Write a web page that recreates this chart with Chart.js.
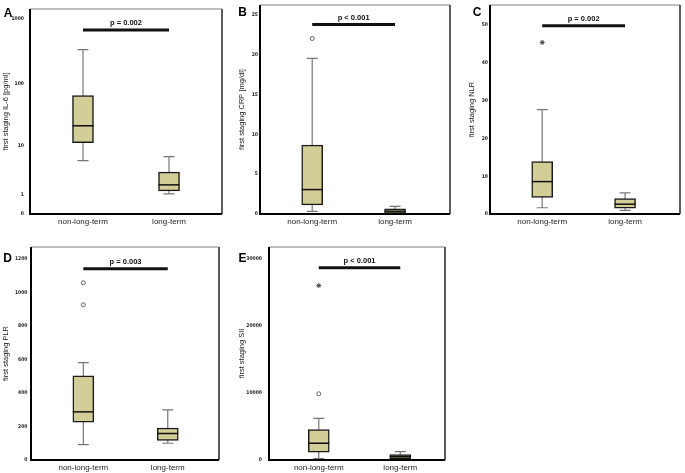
<!DOCTYPE html>
<html>
<head>
<meta charset="utf-8">
<script src="https://cdn.jsdelivr.net/npm/chart.js@4.4.0/dist/chart.umd.min.js"></script>
<style>
  html, body { margin: 0; padding: 0; background: #fff; }
  body { width: 685px; height: 473px; position: relative; overflow: hidden; }
  canvas { position: absolute; }
</style>
</head>
<body>
<canvas id="cA"></canvas>
<canvas id="cB"></canvas>
<canvas id="cC"></canvas>
<canvas id="cD"></canvas>
<canvas id="cE"></canvas>
<script>
const categories = ["non-long-term", "long-term"];

// box stats per group: [lower whisker, Q1, median, Q3, upper whisker]
const il6Stats = [[5.6, 11.4, 21.6, 64.5, 332], [1.04, 1.26, 1.8, 3.4, 6.6]];
const crpStats = [[0.33, 1.15, 3.06, 8.63, 19.5], [0.02, 0.08, 0.35, 0.65, 0.95]];
const nlrStats = [[1.66, 4.37, 8.57, 13.9, 27.6], [0.96, 1.57, 2.6, 4.1, 5.6]];
const plrStats = [[92, 225, 287, 502, 580], [100, 116, 158, 191, 299]];
const siiStats = [[210, 1150, 2500, 4545, 6190], [40, 210, 508, 807, 1255]];

// outliers (o) and extremes (*) as [group index, value]
const il6Outliers = [];
const il6Extremes = [];
const crpOutliers = [[0, 22]];
const crpExtremes = [];
const nlrOutliers = [];
const nlrExtremes = [[0, 45.4]];
const plrOutliers = [[0, 1057], [0, 925]];
const plrExtremes = [];
const siiOutliers = [[0, 9870]];
const siiExtremes = [[0, 26000]];

// y tick labels
const il6Ticks = [0, 1, 10, 100, 1000];
const crpTicks = [0, 5, 10, 15, 20, 25];
const nlrTicks = [0, 10, 20, 30, 40, 50];
const plrTicks = [0, 200, 400, 600, 800, 1000, 1200];
const siiTicks = [0, 10000, 20000, 30000];

const yTitles = ["first staging IL-6 [pg/ml]", "first staging CRP [mg/dl]", "first staging NLR", "first staging PLR", "first staging SII"];
const letters = ["A", "B", "C", "D", "E"];
const pTexts = ["p = 0.002", "p < 0.001", "p = 0.002", "p = 0.003", "p < 0.001"];
const sigLevels = [668, 23.75, 49.8, 1140, 28650];
const yMaxes = [1400, 26.2, 55.3, 1270, 31750];

// SPSS style safe log: log10(1 + v)
const safeLog = (v) => Math.log10(1 + v);

const panels = [
  { canvas: "cA", stats: il6Stats, outliers: il6Outliers, extremes: il6Extremes, ticks: il6Ticks, log: true,
    left: 0, top: 0, w: 224, h: 230, axisW: 30, axisH: 16, padTop: 3, padRight: 2, titlePad: 1.5, tickPad: 6,
    xMin: -0.616, xMax: 1.616, letterAt: [8, 13.5] },
  { canvas: "cB", stats: crpStats, outliers: crpOutliers, extremes: crpExtremes, ticks: crpTicks, log: false,
    left: 225, top: 0, w: 230, h: 230, axisW: 35, axisH: 16, padTop: 3, padRight: 2.3, titlePad: 12.5, tickPad: 2,
    xMin: -0.63, xMax: 1.663, letterAt: [17.5, 13] },
  { canvas: "cC", stats: nlrStats, outliers: nlrOutliers, extremes: nlrExtremes, ticks: nlrTicks, log: false,
    left: 455, top: 0, w: 230, h: 230, axisW: 35, axisH: 16, padTop: 3, padRight: 2, titlePad: 12.5, tickPad: 2,
    xMin: -0.63, xMax: 1.663, letterAt: [22, 13] },
  { canvas: "cD", stats: plrStats, outliers: plrOutliers, extremes: plrExtremes, ticks: plrTicks, log: false,
    left: 0, top: 230, w: 224, h: 243, axisW: 31, axisH: 13, padTop: 17, padRight: 1.7, titlePad: 1.5, tickPad: 3.5,
    xMin: -0.62, xMax: 1.607, letterAt: [7.5, 28.3] },
  { canvas: "cE", stats: siiStats, outliers: siiOutliers, extremes: siiExtremes, ticks: siiTicks, log: false,
    left: 225, top: 230, w: 225, h: 243, axisW: 44, axisH: 13, padTop: 17, padRight: 2.7, titlePad: 12.5, tickPad: 7,
    xMin: -0.611, xMax: 1.549, letterAt: [17.5, 28.8] },
];

const boxFill = "#d3ce97";
const tickFont = { family: "'Liberation Sans Narrow', 'DejaVu Sans Condensed', 'Liberation Sans', sans-serif", size: 5, weight: "bold" };

function makeChart(p, k) {
  const f = p.log ? safeLog : (v) => v;
  const canvas = document.getElementById(p.canvas);
  canvas.width = p.w;
  canvas.height = p.h;
  canvas.style.left = p.left + "px";
  canvas.style.top = p.top + "px";

  const boxParts = {
    id: "boxParts",
    beforeDatasetsDraw(chart) {
      const { ctx, scales: { x, y } } = chart;
      ctx.save();
      ctx.strokeStyle = "#777";
      ctx.lineWidth = 1.2;
      p.stats.forEach((s, i) => {
        const cx = x.getPixelForValue(i);
        const lo = y.getPixelForValue(f(s[0]));
        const hi = y.getPixelForValue(f(s[4]));
        ctx.beginPath();
        ctx.moveTo(cx, lo); ctx.lineTo(cx, hi);
        ctx.moveTo(cx - 5.5, lo); ctx.lineTo(cx + 5.5, lo);
        ctx.moveTo(cx - 5.5, hi); ctx.lineTo(cx + 5.5, hi);
        ctx.stroke();
      });
      ctx.restore();
    },
    afterDatasetsDraw(chart) {
      const { ctx, chartArea: a, scales: { x, y } } = chart;
      ctx.save();
      // medians
      ctx.strokeStyle = "#111";
      ctx.lineWidth = 1.5;
      p.stats.forEach((s, i) => {
        const cx = x.getPixelForValue(i);
        const m = y.getPixelForValue(f(s[2]));
        ctx.beginPath();
        ctx.moveTo(cx - 10.5, m); ctx.lineTo(cx + 10.5, m);
        ctx.stroke();
      });
      // frame
      ctx.lineWidth = 1.5;
      ctx.strokeStyle = "#a8a8a8";
      ctx.beginPath(); ctx.moveTo(a.left, a.top); ctx.lineTo(a.right, a.top); ctx.stroke();
      ctx.lineWidth = 2;
      ctx.strokeStyle = "#5c5c5c";
      ctx.beginPath(); ctx.moveTo(a.right, a.top); ctx.lineTo(a.right, a.bottom); ctx.stroke();
      ctx.strokeStyle = "#000";
      ctx.beginPath(); ctx.moveTo(a.left, a.top); ctx.lineTo(a.left, a.bottom); ctx.lineTo(a.right, a.bottom); ctx.stroke();
      // significance bar
      const sy = y.getPixelForValue(f(sigLevels[k]));
      ctx.lineWidth = 3;
      ctx.strokeStyle = "#111";
      ctx.beginPath();
      ctx.moveTo(x.getPixelForValue(0), sy); ctx.lineTo(x.getPixelForValue(1), sy);
      ctx.stroke();
      ctx.fillStyle = "#111";
      ctx.font = "bold 7.5px 'Liberation Sans', Arial, sans-serif";
      ctx.textAlign = "center";
      ctx.textBaseline = "middle";
      ctx.fillText(pTexts[k], (x.getPixelForValue(0) + x.getPixelForValue(1)) / 2, sy - 6.5);
      // panel letter
      ctx.fillStyle = "#000";
      ctx.font = "bold 12px 'Liberation Sans', Arial, sans-serif";
      ctx.fillText(letters[k], p.letterAt[0], p.letterAt[1]);
      ctx.restore();
    },
  };

  new Chart(canvas, {
    type: "bar",
    data: {
      datasets: [
        {
          type: "bar",
          data: p.stats.map((s, i) => ({ x: i, y: [f(s[1]), f(s[3])] })),
          backgroundColor: boxFill,
          borderColor: "#1a1a1a",
          borderWidth: 1.5,
          borderSkipped: false,
          barThickness: 21,
        },
        {
          type: "scatter",
          data: p.outliers.map((o) => ({ x: o[0], y: f(o[1]) })),
          pointStyle: "circle",
          pointRadius: 2,
          backgroundColor: "#fff",
          borderColor: "#666",
          borderWidth: 1,
        },
        {
          type: "scatter",
          data: p.extremes.map((o) => ({ x: o[0], y: f(o[1]) })),
          pointStyle: "star",
          pointRadius: 2.5,
          borderColor: "#444",
          borderWidth: 1,
        },
      ],
    },
    options: {
      responsive: false,
      animation: false,
      layout: { padding: { top: p.padTop, right: p.padRight, left: 0, bottom: 0 } },
      plugins: { legend: { display: false }, tooltip: { enabled: false } },
      scales: {
        x: {
          type: "linear",
          offset: false,
          min: p.xMin,
          max: p.xMax,
          grid: { display: false, drawTicks: false, offset: false },
          border: { display: false },
          afterBuildTicks: (scale) => { scale.ticks = [{ value: 0 }, { value: 1 }]; },
          afterFit: (scale) => { scale.height = p.axisH; },
          ticks: {
            padding: 2.5,
            maxRotation: 0,
            color: "#222",
            font: { family: "'Liberation Sans', Arial, sans-serif", size: 8 },
            callback: (v, i) => categories[i],
          },
        },
        y: {
          type: "linear",
          min: 0,
          max: f(yMaxes[k]),
          grid: { display: false, drawTicks: false },
          border: { display: false },
          afterBuildTicks: (scale) => { scale.ticks = p.ticks.map((t) => ({ value: f(t) })); },
          afterFit: (scale) => { scale.width = p.axisW; },
          ticks: {
            padding: p.tickPad,
            color: "#222",
            font: tickFont,
            callback: (v, i) => String(p.ticks[i]),
          },
          title: {
            display: true,
            text: yTitles[k],
            color: "#222",
            padding: { top: p.titlePad, bottom: 0 },
            font: { family: "'Liberation Sans', Arial, sans-serif", size: 7.5 },
          },
        },
      },
    },
    plugins: [boxParts],
  });
}

panels.forEach((p, k) => makeChart(p, k));
</script>
</body>
</html>
